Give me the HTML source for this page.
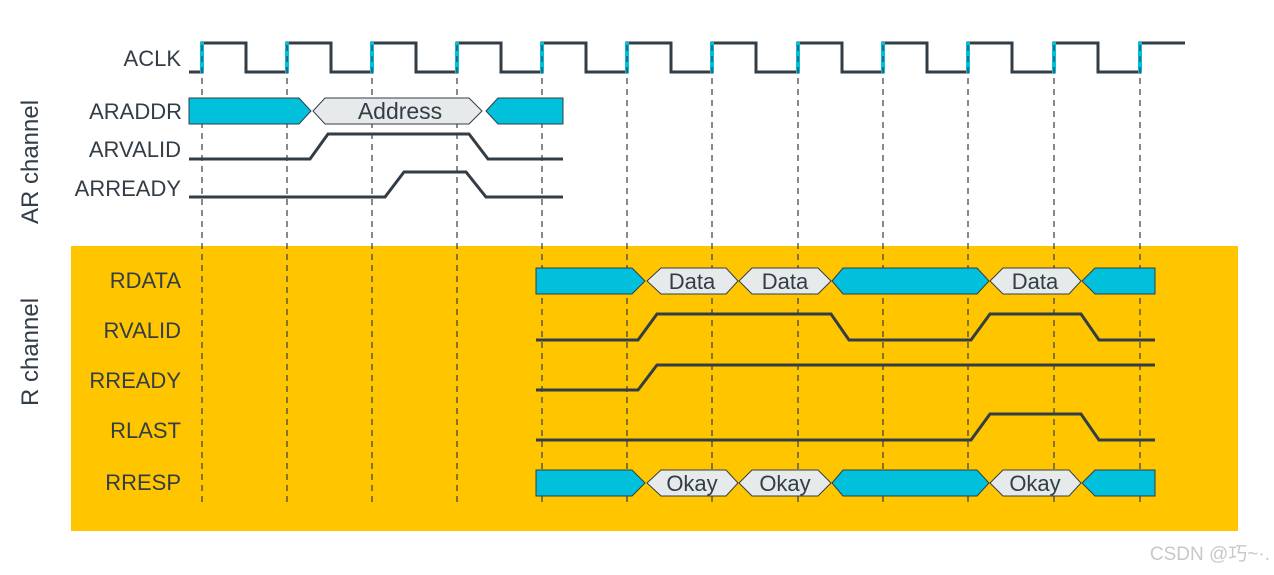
<!DOCTYPE html>
<html><head><meta charset="utf-8"><style>
html,body{margin:0;padding:0;background:#fff;width:1274px;height:575px;overflow:hidden}
svg text{font-family:"Liberation Sans","Noto Sans CJK SC",sans-serif;fill:#333d47}
</style></head><body>
<svg width="1274" height="575" viewBox="0 0 1274 575" xmlns="http://www.w3.org/2000/svg">
<rect x="71" y="246" width="1167" height="285" fill="#FFC600"/>
<path d="M189,72H202V43H246V72H287V43H331V72H372V43H416V72H457V43H501V72H542V43H586V72H627V43H671V72H712V43H756V72H798V43H842V72H883V43H927V72H968V43H1012V72H1054V43H1098V72H1140V43H1185" fill="none" stroke="#333d47" stroke-width="3"/>
<g stroke="#00c0dc" stroke-width="4">
<line x1="202" y1="42" x2="202" y2="73"/><line x1="287" y1="42" x2="287" y2="73"/><line x1="372" y1="42" x2="372" y2="73"/><line x1="457" y1="42" x2="457" y2="73"/><line x1="542" y1="42" x2="542" y2="73"/><line x1="627" y1="42" x2="627" y2="73"/><line x1="712" y1="42" x2="712" y2="73"/><line x1="798" y1="42" x2="798" y2="73"/><line x1="883" y1="42" x2="883" y2="73"/><line x1="968" y1="42" x2="968" y2="73"/><line x1="1054" y1="42" x2="1054" y2="73"/><line x1="1140" y1="42" x2="1140" y2="73"/>
</g>
<g stroke="#333d47" stroke-width="1.2" stroke-dasharray="6,5">
<line x1="202" y1="45" x2="202" y2="502"/><line x1="287" y1="45" x2="287" y2="502"/><line x1="372" y1="45" x2="372" y2="502"/><line x1="457" y1="45" x2="457" y2="502"/><line x1="542" y1="45" x2="542" y2="502"/><line x1="627" y1="45" x2="627" y2="502"/><line x1="712" y1="45" x2="712" y2="502"/><line x1="798" y1="45" x2="798" y2="502"/><line x1="883" y1="45" x2="883" y2="502"/><line x1="968" y1="45" x2="968" y2="502"/><line x1="1054" y1="45" x2="1054" y2="502"/><line x1="1140" y1="45" x2="1140" y2="502"/>
</g>
<g stroke="#333d47" stroke-width="1">
<path d="M189,98H299L311,111L299,124H189Z" fill="#00c0dc"/>
<path d="M313,111L325,98H469L482,111L469,124H325Z" fill="#e6eaeb"/>
<path d="M486,111L498,98H563V124H498Z" fill="#00c0dc"/>
</g>
<text x="400" y="119" font-size="23" text-anchor="middle">Address</text>
<g fill="none" stroke="#333d47" stroke-width="3">
<path d="M189,159H310L328,134H469L488,159H563"/>
<path d="M189,197H385L404,172H466L486,197H563"/>
<path d="M536,340H638L657,314H831L849,340H971L990,314H1081L1099,340H1155"/>
<path d="M536,390H638L657,365H1155"/>
<path d="M536,440H971L990,414H1081L1099,440H1155"/>
</g>
<g stroke="#333d47" stroke-width="1">
<path d="M536,268H632L645,281L632,294H536Z" fill="#00c0dc"/>
<path d="M647,281L661,268H726L738,281L726,294H661Z" fill="#e6eaeb"/>
<path d="M739,281L752,268H818L831,281L818,294H752Z" fill="#e6eaeb"/>
<path d="M832,281L843,268H977L989,281L977,294H843Z" fill="#00c0dc"/>
<path d="M990,281L1003,268H1069L1081,281L1069,294H1003Z" fill="#e6eaeb"/>
<path d="M1082,281L1095,268H1155V294H1095Z" fill="#00c0dc"/>
<path d="M536,470H632L645,483L632,496H536Z" fill="#00c0dc"/>
<path d="M647,483L661,470H726L738,483L726,496H661Z" fill="#e6eaeb"/>
<path d="M739,483L752,470H818L831,483L818,496H752Z" fill="#e6eaeb"/>
<path d="M832,483L843,470H977L989,483L977,496H843Z" fill="#00c0dc"/>
<path d="M990,483L1003,470H1069L1081,483L1069,496H1003Z" fill="#e6eaeb"/>
<path d="M1082,483L1095,470H1155V496H1095Z" fill="#00c0dc"/>
</g>
<g font-size="22" text-anchor="middle">
<text x="692" y="289">Data</text><text x="785" y="289">Data</text><text x="1035" y="289">Data</text>
<text x="692" y="491">Okay</text><text x="785" y="491">Okay</text><text x="1035" y="491">Okay</text>
</g>
<g font-size="22" text-anchor="end">
<text x="181" y="66">ACLK</text>
<text x="182" y="119">ARADDR</text>
<text x="181" y="157">ARVALID</text>
<text x="181" y="196">ARREADY</text>
<text x="181" y="288">RDATA</text>
<text x="181" y="338">RVALID</text>
<text x="181" y="388">RREADY</text>
<text x="181" y="438">RLAST</text>
<text x="181" y="490">RRESP</text>
</g>
<text transform="translate(38,162) rotate(-90)" font-size="24" text-anchor="middle">AR channel</text>
<text transform="translate(38,352) rotate(-90)" font-size="24" text-anchor="middle">R channel</text>
<text x="1270" y="560" font-size="19" text-anchor="end" style="fill:#c8c8c8">CSDN @巧~·.</text>
</svg>
</body></html>
